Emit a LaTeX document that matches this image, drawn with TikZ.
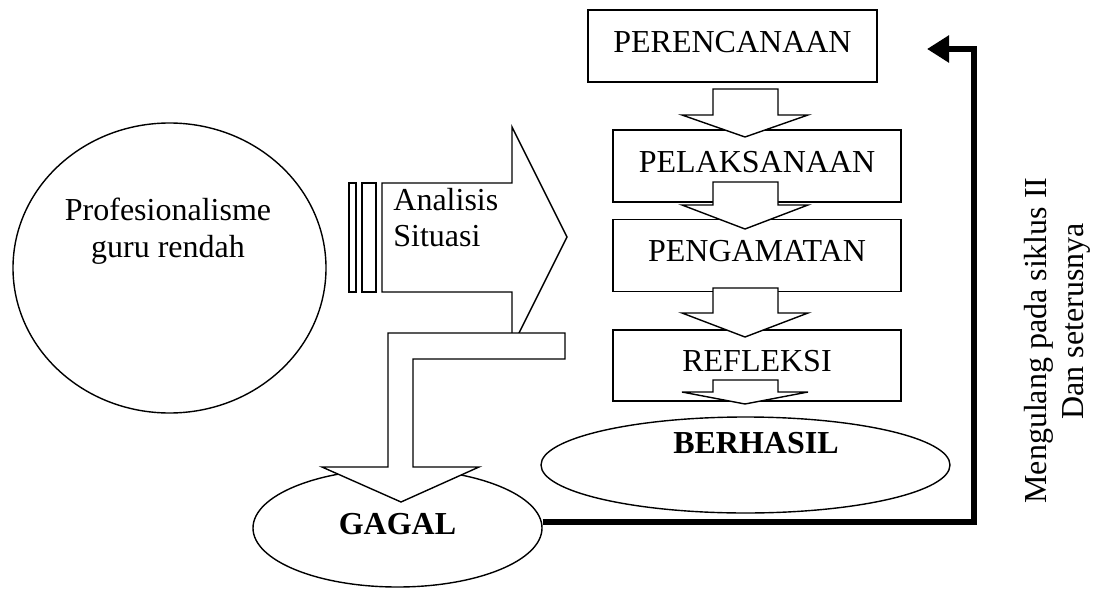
\documentclass[tikz,border=0pt]{standalone}
\usepackage{fontspec}
\setmainfont{Liberation Serif}
\usetikzlibrary{positioning, arrows.meta, shapes.geometric}
\newcommand{\diagfont}{\fontsize{16}{18.4}\selectfont}

\begin{document}
\begin{tikzpicture}[
  x=0.5pt, y=-0.5pt,
  font=\diagfont,
  stage/.style={rectangle, draw, fill=white, line width=0.7pt, inner sep=0pt,
                minimum width=144pt, minimum height=36pt, text depth=4.5pt},
  oval/.style={ellipse, draw, fill=white, line width=0.7pt, inner sep=0pt},
  blockarrow/.style={draw, fill=white, line width=0.7pt},
  loopline/.style={-{Triangle[length=11pt, width=13pt]}, line width=3pt},
  caption/.style={inner sep=0pt, align=center},
]
  \useasboundingbox (0,0) rectangle (1093,589);

  % starting condition
  \node[oval, minimum width=156.5pt, minimum height=145pt] (prof) at (169.5,268) {};
  \node[caption] (proftext) at (168,231) {Profesionalisme\\guru rendah};

  % outcomes
  \node[oval, minimum width=144.5pt, minimum height=59pt, text depth=4pt,
        font=\diagfont\bfseries] (gagal) at (397.5,528) {GAGAL};
  \node[oval, minimum width=204.5pt, minimum height=48pt] (berhasil) at (745.5,465) {};
  \node[caption, font=\diagfont\bfseries] (berhasiltext) at (756,443) {BERHASIL};

  % cycle steps
  \node[stage, minimum width=144.5pt] (plan) at (732.5,46) {PERENCANAAN};
  \node[stage] (act) at (757,166) {PELAKSANAAN};
  \node[stage, below=8pt of act] (obs) {PENGAMATAN};
  \node[stage, below=18.5pt of obs, minimum height=35.5pt] (refl) {REFLEKSI};

  % block arrows between the steps
  \foreach \ya/\yb/\yc in {89/115/137, 182/205/229, 288/313/337, 380/392/404}
    \draw[blockarrow] (713,\ya) -- (778,\ya) -- (778,\yb) -- (808,\yb)
      -- (745,\yc) -- (682,\yb) -- (713,\yb) -- cycle;

  % analysis arrow
  \draw[blockarrow] (349,183) rectangle (356,292);
  \draw[blockarrow] (362,183) rectangle (376,292);
  \draw[blockarrow] (382,183) -- (512,183) -- (512,127) -- (567,237)
    -- (512,347) -- (512,292) -- (382,292) -- cycle;
  \node[caption, anchor=west, align=left] (analysis) at (393,217.5) {Analisis\\Situasi};

  % bent arrow down to GAGAL
  \draw[blockarrow] (565,333) -- (388,333) -- (388,467) -- (322,467) -- (401,502)
    -- (479,467) -- (413,467) -- (413,359) -- (565,359) -- cycle;

  % loop back to planning
  \coordinate (turn) at (974,49);
  \coordinate (back) at (927,49);
  \draw[loopline] ([yshift=3pt]gagal.east) -| (turn) -- (back);
  \node[caption, rotate=90] (note) at (1057.5,340.5)
    {Mengulang pada siklus II\\\kern19pt Dan seterusnya};
\end{tikzpicture}
\end{document}
